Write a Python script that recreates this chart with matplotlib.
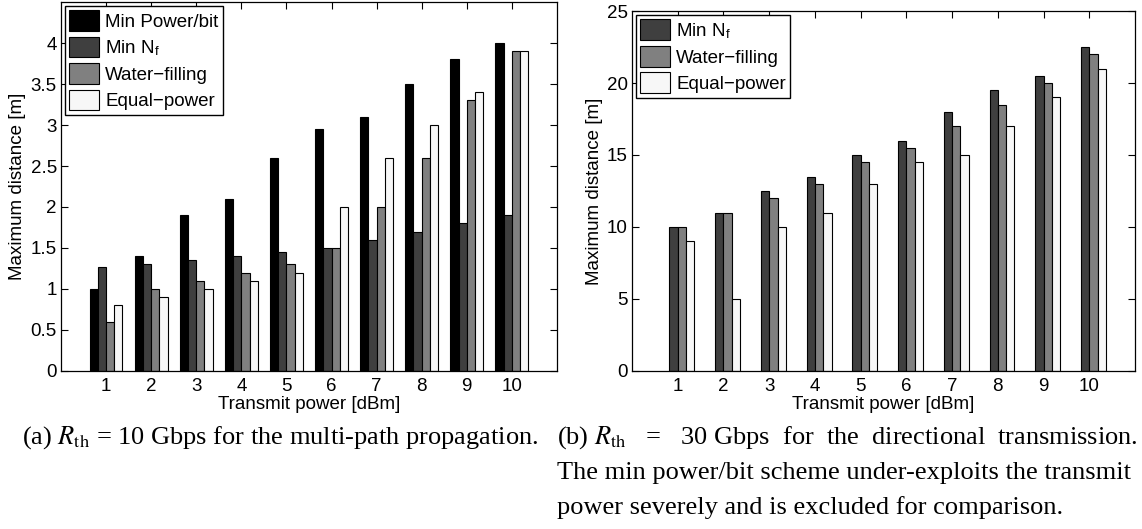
import numpy as np
import matplotlib
matplotlib.use('Agg')
import matplotlib.pyplot as plt

plt.rcParams['font.family'] = 'Liberation Sans'
plt.rcParams['mathtext.fontset'] = 'stix'

power_dbm = [1, 2, 3, 4, 5, 6, 7, 8, 9, 10]

# (a) multi-path propagation, R_th = 10 Gbps
a_min_power_bit = [1.0, 1.4, 1.9, 2.1, 2.6, 2.95, 3.1, 3.5, 3.8, 4.0]
a_min_nf = [1.27, 1.3, 1.35, 1.4, 1.45, 1.5, 1.6, 1.7, 1.8, 1.9]
a_water_filling = [0.6, 1.0, 1.1, 1.2, 1.3, 1.5, 2.0, 2.6, 3.3, 3.9]
a_equal_power = [0.8, 0.9, 1.0, 1.1, 1.2, 2.0, 2.6, 3.0, 3.4, 3.9]

# (b) directional transmission, R_th = 30 Gbps
b_min_nf = [10, 11, 12.5, 13.5, 15, 16, 18, 19.5, 20.5, 22.5]
b_water_filling = [10, 11, 12, 13, 14.5, 15.5, 17, 18.5, 20, 22]
b_equal_power = [9, 5, 10, 11, 13, 14.5, 15, 17, 19, 21]

labels = ['Min Power/bit', r'Min N$_\mathregular{f}$', 'Water\u2212filling', 'Equal\u2212power']
colors = ['#000000', '#3f3f3f', '#808080', '#f7f7f7']

FS = 13.5
BW = 0.182  # width of one bar, four slots per group


def style_axes(ax, ymax, yticks, yticklabels):
    ax.set_xlim(0, 11)
    ax.set_ylim(0, ymax)
    ax.set_xticks(power_dbm)
    ax.set_xticklabels([str(p) for p in power_dbm], fontsize=FS)
    ax.set_yticks(yticks)
    ax.set_yticklabels(yticklabels, fontsize=FS)
    ax.tick_params(direction='in', top=True, right=True, length=5, width=0.8, pad=3)
    ax.tick_params(axis='x', pad=5)
    for s in ax.spines.values():
        s.set_linewidth(0.9)
    ax.set_xlabel('Transmit power [dBm]', fontsize=FS, labelpad=1)
    ax.set_ylabel('Maximum distance [m]', fontsize=FS, labelpad=3)


def draw_bars(ax, series, slots):
    x = np.array(power_dbm, dtype=float)
    handles = []
    for vals, slot in zip(series, slots):
        off = (slot - 1.5) * BW
        h = ax.bar(x + off, vals, width=BW, color=colors[slot], edgecolor='black',
                   linewidth=0.8, label=labels[slot], zorder=2)
        handles.append(h)
    return handles


def add_legend(ax):
    ax.legend(loc='upper left', bbox_to_anchor=(0.0, 1.0), fontsize=FS, fancybox=False,
              edgecolor='black', framealpha=1, borderaxespad=0.2, borderpad=0.25,
              handlelength=1.6, handleheight=1.3, handletextpad=0.3, labelspacing=0.3)


fig = plt.figure(figsize=(11.42, 5.29), dpi=100)

ax1 = fig.add_axes([0.0534, 0.2987, 0.4343, 0.6975])
draw_bars(ax1, [a_min_power_bit, a_min_nf, a_water_filling, a_equal_power], [0, 1, 2, 3])
style_axes(ax1, 4.5, np.arange(0, 4.01, 0.5),
           ['0', '0.5', '1', '1.5', '2', '2.5', '3', '3.5', '4'])
add_legend(ax1)

# min power/bit slot is left empty in (b)
ax2 = fig.add_axes([0.5534, 0.2987, 0.4405, 0.6805])
draw_bars(ax2, [b_min_nf, b_water_filling, b_equal_power], [1, 2, 3])
style_axes(ax2, 25, [0, 5, 10, 15, 20, 25], ['0', '5', '10', '15', '20', '25'])
add_legend(ax2)

cap = dict(fontsize=19, family='Liberation Serif', va='baseline', ha='left')
fig.text(22 / 1142, 1 - 444 / 529,
         r'(a) $R_{\rm th}$ = 10 Gbps for the multi-path propagation.', **cap)
fig.text(557 / 1142, 1 - 444 / 529,
         r'(b) $R_{\rm th}$   =   30 Gbps  for  the  directional  transmission.', **cap)
fig.text(557 / 1142, 1 - 479 / 529,
         'The min power/bit scheme under-exploits the transmit', **cap)
fig.text(557 / 1142, 1 - 514 / 529,
         'power severely and is excluded for comparison.', **cap)

fig.savefig('out.png', dpi=100)
